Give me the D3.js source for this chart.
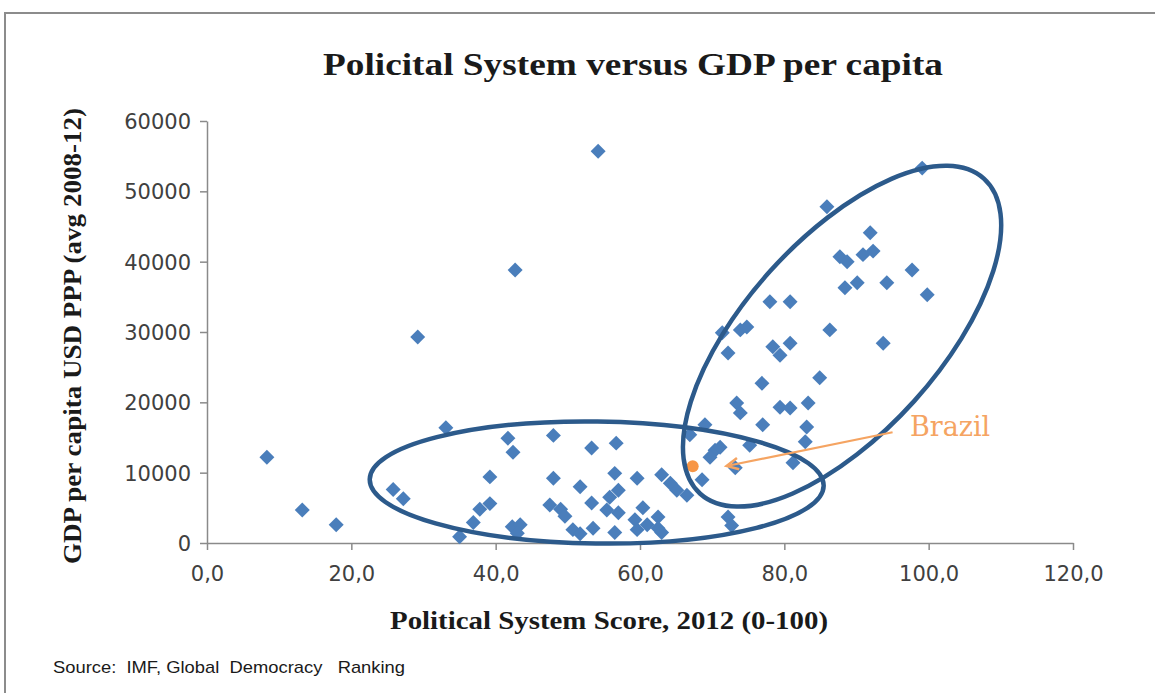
<!DOCTYPE html>
<html>
<head>
<meta charset="utf-8">
<script src="https://cdn.jsdelivr.net/npm/d3@7"></script>
<style>
  html, body { margin: 0; padding: 0; background: #ffffff; }
  svg { display: block; }
</style>
</head>
<body>
<svg id="chart" width="1155" height="693"></svg>
<script>
// Political system score (0-100) per country
const countryScore = [
  8.3, 13.2, 17.9, 29.2, 33.1, 25.8, 27.2, 42.7, 54.2, 35.0,
  36.9, 37.8, 39.2, 39.2, 41.7, 42.4, 42.3, 43.4, 43.0,
  48.0, 53.3, 56.7, 48.0, 51.7, 56.5, 59.6, 47.5, 49.0, 49.6, 53.3, 55.8, 57.0, 55.4, 57.0,
  60.4, 59.3, 62.5, 61.0, 50.7, 51.7, 53.5, 56.5, 59.6, 62.5, 63.0, 63.0, 64.2, 65.1, 66.5, 72.2, 72.7,
  99.1, 85.9, 91.9, 87.7, 88.7, 90.9, 92.3, 97.7, 94.2, 88.4, 90.1, 99.8, 78.0, 80.8, 71.4,
  73.9, 74.8, 86.3, 93.7, 72.2, 78.4, 79.4, 80.8, 76.9, 84.9, 73.4, 73.9, 79.4, 80.8, 83.3,
  77.0, 83.1, 82.9, 69.0, 66.9, 75.2, 70.4, 71.1, 69.7, 73.2, 81.2, 68.6
];
// GDP per capita, USD PPP, average 2008-12
const countryGdp = [
  12200, 4700, 2600, 29300, 16400, 7600, 6300, 38800, 55700, 900,
  2900, 4800, 5600, 9400, 14900, 12900, 2300, 2600, 1400,
  15300, 13500, 14200, 9200, 8000, 9900, 9200, 5400, 4800, 3800, 5700, 6500, 7500, 4700, 4300,
  5000, 3300, 3700, 2600, 1900, 1300, 2100, 1500, 1900, 2100, 1500, 9700, 8500, 7500, 6800, 3700, 2500,
  53300, 47800, 44100, 40700, 40000, 41000, 41500, 38800, 37000, 36300, 37000, 35300, 34300, 34300, 29900,
  30300, 30700, 30300, 28400, 27000, 27900, 26700, 28400, 22700, 23500, 19900, 18500, 19300, 19200, 19900,
  16800, 16500, 14400, 16800, 15400, 13900, 13200, 13600, 12200, 10700, 11400, 9000
];
// Highlighted country
const brazilScore = 67.3;
const brazilGdp = 10900;
const highlightLabel = "Brazil";

// Axis ticks
const xTicks = [0, 20, 40, 60, 80, 100, 120];
const yTicks = [0, 10000, 20000, 30000, 40000, 50000, 60000];

const titleText = "Policital System versus GDP per capita";
const xTitle = "Political System Score, 2012 (0-100)";
const yTitle = "GDP per capita USD PPP (avg 2008-12)";
const sourceText = "Source:  IMF, Global  Democracy   Ranking";

const svg = d3.select("#chart");
const axisGray = "#8a8a8a";
const blue = "#4a7ebb";
const orange = "#f79646";
const ringBlue = "#2c5a8b";

// Outer frame
svg.append("rect")
  .attr("x", 5).attr("y", 13).attr("width", 1165).attr("height", 700)
  .attr("fill", "none").attr("stroke", "#8c8c8c").attr("stroke-width", 2);

const x = d3.scaleLinear().domain([0, 120]).range([207, 1073]);
const y = d3.scaleLinear().domain([0, 60000]).range([543, 121]);

// Title
svg.append("text")
  .attr("x", 633).attr("y", 75)
  .attr("text-anchor", "middle")
  .attr("font-family", "'Liberation Serif', serif")
  .attr("font-weight", "bold")
  .attr("font-size", 31)
  .attr("fill", "#1a1a1a")
  .attr("textLength", 620).attr("lengthAdjust", "spacingAndGlyphs")
  .text(titleText);

// Axes
const xAxis = d3.axisBottom(x).tickValues(xTicks).tickSize(7).tickSizeOuter(0)
  .tickFormat(d => d.toFixed(1).replace(".", ","));
const yAxis = d3.axisLeft(y).tickValues(yTicks).tickSize(7).tickSizeOuter(0)
  .tickFormat(d => String(d));

const gx = svg.append("g").attr("transform", `translate(0,${y(0)})`).call(xAxis);
const gy = svg.append("g").attr("transform", `translate(${x(0)},0)`).call(yAxis);

[gx, gy].forEach(g => {
  g.select(".domain").attr("stroke", axisGray).attr("stroke-width", 1.5);
  g.selectAll(".tick line").attr("stroke", axisGray).attr("stroke-width", 1.5);
  g.selectAll(".tick text")
    .attr("font-family", "'DejaVu Sans', sans-serif")
    .attr("font-size", 21)
    .attr("fill", "#404040");
});
gx.selectAll(".tick text").attr("dy", "1.35em");
gy.selectAll(".tick text").attr("x", -16).attr("dy", "0.36em");

// Axis titles
svg.append("text")
  .attr("x", 609).attr("y", 629)
  .attr("text-anchor", "middle")
  .attr("font-family", "'Liberation Serif', serif")
  .attr("font-weight", "bold")
  .attr("font-size", 25)
  .attr("fill", "#1a1a1a")
  .attr("textLength", 438).attr("lengthAdjust", "spacingAndGlyphs")
  .text(xTitle);

svg.append("text")
  .attr("transform", "translate(81,336) rotate(-90)")
  .attr("text-anchor", "middle")
  .attr("font-family", "'Liberation Serif', serif")
  .attr("font-weight", "bold")
  .attr("font-size", 25)
  .attr("fill", "#1a1a1a")
  .attr("textLength", 456).attr("lengthAdjust", "spacingAndGlyphs")
  .text(yTitle);

// Source note (keeps its wide word gaps)
svg.append("text")
  .attr("x", 53).attr("y", 673)
  .style("white-space", "pre")
  .attr("font-family", "'Liberation Sans Narrow', 'Liberation Sans', sans-serif")
  .attr("font-size", 17)
  .attr("fill", "#1a1a1a")
  .attr("textLength", 352).attr("lengthAdjust", "spacingAndGlyphs")
  .text(sourceText);

// Scatter points (diamonds)
const diamond = d3.symbol().type(d3.symbolSquare).size(112);
const pts = countryScore.map((s, i) => ({ s, g: countryGdp[i] }));

svg.append("g").selectAll("path")
  .data(pts).join("path")
  .attr("d", diamond)
  .attr("transform", d => `translate(${x(d.s)},${y(d.g)}) rotate(45)`)
  .attr("fill", blue);

// Highlighted point
svg.append("circle")
  .attr("cx", x(brazilScore)).attr("cy", y(brazilGdp))
  .attr("r", 6)
  .attr("fill", orange);

// Cluster rings: centre in data units, semi-axes in pixels, rotation in degrees
const rings = [
  { s: 54.0, g: 8600, rx: 227, ry: 61, rot: 0.8 },
  { s: 88.0, g: 29400, rx: 212, ry: 97, rot: -48 }
];
svg.append("g").selectAll("ellipse")
  .data(rings).join("ellipse")
  .attr("cx", 0).attr("cy", 0)
  .attr("rx", d => d.rx).attr("ry", d => d.ry)
  .attr("transform", d => `translate(${x(d.s)},${y(d.g)}) rotate(${d.rot})`)
  .attr("fill", "none")
  .attr("stroke", ringBlue)
  .attr("stroke-width", 4.5);

// Label arrow
const arrowColor = "#f5a462";
const tip = [x(72.0), y(10950)];
const tail = [x(95.0), y(15750)];
svg.append("line")
  .attr("x1", tail[0]).attr("y1", tail[1])
  .attr("x2", tip[0]).attr("y2", tip[1])
  .attr("stroke", arrowColor).attr("stroke-width", 2.2);
const ang = Math.atan2(tail[1] - tip[1], tail[0] - tip[0]);
const head = 13, spread = 0.45;
const p1 = [tip[0] + head * Math.cos(ang + spread), tip[1] + head * Math.sin(ang + spread)];
const p2 = [tip[0] + head * Math.cos(ang - spread), tip[1] + head * Math.sin(ang - spread)];
svg.append("path")
  .attr("d", `M${p1[0]},${p1[1]} L${tip[0]},${tip[1]} L${p2[0]},${p2[1]}`)
  .attr("fill", "none").attr("stroke", arrowColor).attr("stroke-width", 2.5)
  .attr("stroke-linejoin", "miter");

svg.append("text")
  .attr("x", x(97.4)).attr("y", 436)
  .attr("font-family", "'DejaVu Serif', serif")
  .attr("font-size", 27)
  .attr("fill", arrowColor)
  .text(highlightLabel);
</script>
</body>
</html>
